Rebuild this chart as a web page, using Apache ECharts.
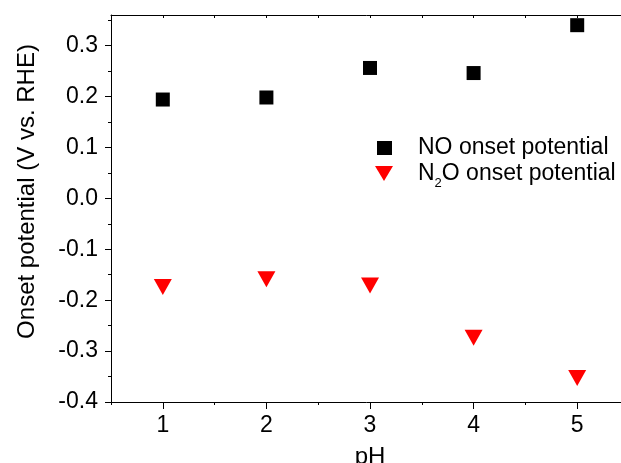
<!DOCTYPE html>
<html><head><meta charset="utf-8">
<script src="https://cdn.jsdelivr.net/npm/echarts@6/dist/echarts.min.js"></script>
<style>html,body{margin:0;padding:0;background:#fff}#c{width:621px;height:463px}</style>
</head><body><div id="c"></div>
<script>
var ph = [1, 2, 3, 4, 5];
var noOnset = [0.194, 0.198, 0.256, 0.246, 0.340];
var n2oOnset = [-0.174, -0.159, -0.171, -0.274, -0.353];
var xMajor = [1, 2, 3, 4, 5];
var xMinor = [0.5, 1.5, 2.5, 3.5, 4.5, 5.5];
var xTop = [0.5, 1, 1.5, 2, 2.5, 3, 3.5, 4, 4.5, 5, 5.5];
var yMajor = [-0.4, -0.3, -0.2, -0.1, 0, 0.1, 0.2, 0.3];
var yMinor = [-0.35, -0.25, -0.15, -0.05, 0.05, 0.15, 0.25, 0.35];

var FONT = "'Liberation Sans', Arial, sans-serif";
var FS = 23;
var FN = 24;
var line = {show: true, onZero: false, lineStyle: {color: '#000', width: 1}};

function pairs(xs, ys) { return xs.map(function (x, i) { return [x, ys[i]]; }); }

var chart = echarts.init(document.getElementById('c'), null, {renderer: 'canvas'});
chart.setOption({
  animation: false,
  backgroundColor: '#fff',
  grid: {left: 111, top: 15, right: -8, bottom: 61, containLabel: false, outerBoundsMode: 'none'},
  xAxis: [
    {type: 'value', position: 'bottom', min: 0.5, max: 5.5,
     name: 'pH', nameLocation: 'middle', nameGap: 43,
     nameTextStyle: {fontFamily: FONT, fontSize: FN, color: '#000'},
     axisLine: line, splitLine: {show: false},
     axisTick: {show: true, inside: false, length: 7, customValues: xMajor, lineStyle: {color: '#000'}},
     axisLabel: {show: true, margin: 12, customValues: xMajor, fontFamily: FONT, fontSize: FS, color: '#000'}},
    {type: 'value', position: 'bottom', min: 0.5, max: 5.5,
     axisLine: {show: false, onZero: false}, splitLine: {show: false}, axisLabel: {show: false},
     axisTick: {show: true, inside: false, length: 3, customValues: xMinor, lineStyle: {color: '#000'}}},
    {type: 'value', position: 'top', min: 0.5, max: 5.5,
     axisLine: line, splitLine: {show: false}, axisLabel: {show: false},
     axisTick: {show: true, inside: true, length: 3, customValues: xTop, lineStyle: {color: '#000'}}}
  ],
  yAxis: [
    {type: 'value', position: 'left', min: -0.4, max: 0.36,
     name: 'Onset potential (V vs. RHE)', nameLocation: 'middle', nameGap: 72,
     nameTextStyle: {fontFamily: FONT, fontSize: FN, color: '#000', padding: [0, 0, 0, 34]},
     axisLine: line, splitLine: {show: false},
     axisTick: {show: true, inside: false, length: 6, customValues: yMajor, lineStyle: {color: '#000'}},
     axisLabel: {show: true, margin: 13, customValues: yMajor, fontFamily: FONT, fontSize: FS, color: '#000',
       formatter: function (v) { return Math.abs(v) < 1e-9 ? '0.0' : v.toFixed(1); }}},
    {type: 'value', position: 'left', min: -0.4, max: 0.36,
     axisLine: {show: false, onZero: false}, splitLine: {show: false}, axisLabel: {show: false},
     axisTick: {show: true, inside: false, length: 3, customValues: yMinor, lineStyle: {color: '#000'}}}
  ],
  legend: [
    {data: ['NO onset potential'], left: 377, top: 134, padding: 0, orient: 'vertical',
     itemWidth: 15, itemHeight: 14, icon: 'rect',
     textStyle: {fontFamily: FONT, fontSize: FS, color: '#000', lineHeight: 28, padding: [0, 0, 0, 21]}},
    {data: ['N2O onset potential'], left: 375, top: 162, padding: 0, orient: 'vertical',
     itemWidth: 18, itemHeight: 15, icon: 'path://M0,0 L18,0 L9,15 Z',
     formatter: function () { return '{a|N}{b|2}{a|O onset potential}'; },
     textStyle: {fontFamily: FONT, fontSize: FS, color: '#000', padding: [0, 0, 0, 20],
       rich: {a: {fontFamily: FONT, fontSize: FS, color: '#000', lineHeight: 32},
              b: {fontFamily: FONT, fontSize: 13, color: '#000', lineHeight: 13, verticalAlign: 'bottom'}}}}
  ],
  series: [
    {name: 'NO onset potential', type: 'scatter', xAxisIndex: 0, yAxisIndex: 0,
     symbol: 'rect', symbolSize: 14, itemStyle: {color: '#000', opacity: 1},
     data: pairs(ph, noOnset)},
    {name: 'N2O onset potential', type: 'scatter', xAxisIndex: 0, yAxisIndex: 0,
     symbol: 'triangle', symbolRotate: 180, symbolSize: [18, 16], itemStyle: {color: '#ff0000', opacity: 1},
     data: pairs(ph, n2oOnset)}
  ]
});
</script></body></html>
